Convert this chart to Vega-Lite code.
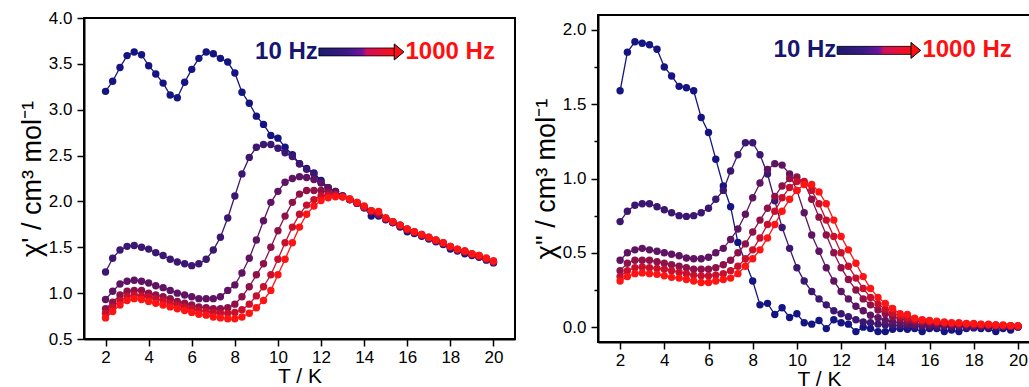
{
  "$schema": "https://vega.github.io/schema/vega-lite/v6.json",
  "background": "white",
  "padding": {"left": 17, "top": 8, "right": 0, "bottom": 0},
  "config": {
    "font": "Liberation Sans",
    "view": {"stroke": "black", "strokeWidth": 2},
    "axis": {
      "domainColor": "black", "domainWidth": 2, "tickColor": "black", "tickWidth": 1.5,
      "labelColor": "black", "titleColor": "black", "grid": false,
      "labelFont": "Liberation Sans", "titleFont": "Liberation Sans",
      "labelFontSize": 17, "titleFontWeight": "normal", "labelFlush": false, "labelOverlap": false
    }
  },
  "datasets": {
    "left": [
      {"T":2,"a":3.20,"b":1.23,"c":0.93,"d":0.83,"e":0.78,"f":0.73},
      {"T":2.33,"a":3.31,"b":1.38,"c":1.02,"d":0.90,"e":0.85,"f":0.80},
      {"T":2.67,"a":3.46,"b":1.47,"c":1.10,"d":0.98,"e":0.92,"f":0.87},
      {"T":3,"a":3.59,"b":1.51,"c":1.13,"d":1.02,"e":0.96,"f":0.92},
      {"T":3.33,"a":3.63,"b":1.52,"c":1.14,"d":1.03,"e":0.98,"f":0.94},
      {"T":3.67,"a":3.60,"b":1.50,"c":1.13,"d":1.03,"e":0.97,"f":0.93},
      {"T":4,"a":3.48,"b":1.48,"c":1.11,"d":1.00,"e":0.96,"f":0.91},
      {"T":4.33,"a":3.39,"b":1.44,"c":1.08,"d":0.98,"e":0.94,"f":0.89},
      {"T":4.67,"a":3.29,"b":1.41,"c":1.06,"d":0.96,"e":0.92,"f":0.87},
      {"T":5,"a":3.16,"b":1.37,"c":1.03,"d":0.94,"e":0.89,"f":0.85},
      {"T":5.33,"a":3.13,"b":1.34,"c":1.00,"d":0.91,"e":0.87,"f":0.83},
      {"T":5.67,"a":3.30,"b":1.32,"c":0.98,"d":0.89,"e":0.85,"f":0.81},
      {"T":6,"a":3.44,"b":1.30,"c":0.96,"d":0.87,"e":0.83,"f":0.79},
      {"T":6.33,"a":3.56,"b":1.32,"c":0.94,"d":0.85,"e":0.81,"f":0.77},
      {"T":6.67,"a":3.63,"b":1.37,"c":0.94,"d":0.84,"e":0.80,"f":0.76},
      {"T":7,"a":3.61,"b":1.47,"c":0.94,"d":0.83,"e":0.79,"f":0.74},
      {"T":7.33,"a":3.56,"b":1.61,"c":0.96,"d":0.83,"e":0.78,"f":0.73},
      {"T":7.67,"a":3.52,"b":1.82,"c":1.03,"d":0.84,"e":0.78,"f":0.72},
      {"T":8,"a":3.40,"b":2.06,"c":1.09,"d":0.88,"e":0.79,"f":0.72},
      {"T":8.33,"a":3.19,"b":2.30,"c":1.22,"d":0.96,"e":0.82,"f":0.74},
      {"T":8.67,"a":3.07,"b":2.48,"c":1.38,"d":1.07,"e":0.88,"f":0.78},
      {"T":9,"a":2.93,"b":2.59,"c":1.58,"d":1.20,"e":0.97,"f":0.84},
      {"T":9.33,"a":2.84,"b":2.62,"c":1.79,"d":1.32,"e":1.07,"f":0.92},
      {"T":9.67,"a":2.72,"b":2.62,"c":1.99,"d":1.50,"e":1.20,"f":1.03},
      {"T":10,"a":2.69,"b":2.58,"c":2.11,"d":1.68,"e":1.37,"f":1.20},
      {"T":10.33,"a":2.59,"b":2.53,"c":2.21,"d":1.84,"e":1.55,"f":1.37},
      {"T":10.67,"a":2.51,"b":2.49,"c":2.25,"d":1.99,"e":1.72,"f":1.55},
      {"T":11,"a":2.41,"b":2.41,"c":2.27,"d":2.08,"e":1.86,"f":1.72},
      {"T":11.33,"a":2.36,"b":2.35,"c":2.26,"d":2.12,"e":1.96,"f":1.86},
      {"T":11.67,"a":2.31,"b":2.30,"c":2.24,"d":2.12,"e":2.02,"f":1.95},
      {"T":12,"a":2.23,"b":2.21,"c":2.20,"d":2.12,"e":2.06,"f":2.01},
      {"T":12.33,"a":2.15,"b":2.15,"c":2.15,"d":2.10,"e":2.07,"f":2.04},
      {"T":12.67,"a":2.11,"b":2.10,"c":2.11,"d":2.08,"e":2.07,"f":2.05},
      {"T":13,"a":2.06,"b":2.06,"c":2.06,"d":2.05,"e":2.05,"f":2.05},
      {"T":13.33,"a":2.02,"b":2.02,"c":2.02,"d":2.02,"e":2.02,"f":2.03},
      {"T":13.67,"a":1.98,"b":1.98,"c":1.98,"d":1.98,"e":1.99,"f":1.99},
      {"T":14,"a":1.93,"b":1.93,"c":1.94,"d":1.94,"e":1.94,"f":1.95},
      {"T":14.33,"a":1.84,"b":1.89,"c":1.89,"d":1.89,"e":1.90,"f":1.90},
      {"T":14.67,"a":1.84,"b":1.85,"c":1.86,"d":1.86,"e":1.88,"f":1.89},
      {"T":15,"a":1.80,"b":1.81,"c":1.81,"d":1.81,"e":1.82,"f":1.82},
      {"T":15.33,"a":1.77,"b":1.77,"c":1.77,"d":1.78,"e":1.78,"f":1.78},
      {"T":15.67,"a":1.72,"b":1.73,"c":1.73,"d":1.74,"e":1.74,"f":1.74},
      {"T":16,"a":1.67,"b":1.69,"c":1.69,"d":1.69,"e":1.70,"f":1.70},
      {"T":16.33,"a":1.65,"b":1.66,"c":1.66,"d":1.66,"e":1.67,"f":1.67},
      {"T":16.67,"a":1.62,"b":1.63,"c":1.63,"d":1.63,"e":1.64,"f":1.64},
      {"T":17,"a":1.59,"b":1.60,"c":1.60,"d":1.60,"e":1.61,"f":1.61},
      {"T":17.33,"a":1.56,"b":1.57,"c":1.57,"d":1.57,"e":1.58,"f":1.58},
      {"T":17.67,"a":1.53,"b":1.54,"c":1.54,"d":1.54,"e":1.55,"f":1.55},
      {"T":18,"a":1.48,"b":1.50,"c":1.50,"d":1.50,"e":1.51,"f":1.51},
      {"T":18.33,"a":1.46,"b":1.47,"c":1.47,"d":1.47,"e":1.48,"f":1.48},
      {"T":18.67,"a":1.43,"b":1.45,"c":1.45,"d":1.45,"e":1.46,"f":1.46},
      {"T":19,"a":1.41,"b":1.42,"c":1.42,"d":1.42,"e":1.43,"f":1.43},
      {"T":19.33,"a":1.39,"b":1.40,"c":1.40,"d":1.40,"e":1.41,"f":1.41},
      {"T":19.67,"a":1.36,"b":1.37,"c":1.37,"d":1.37,"e":1.38,"f":1.38},
      {"T":20,"a":1.33,"b":1.34,"c":1.34,"d":1.34,"e":1.35,"f":1.35}
    ],
    "right": [
      {"T":2,"a":1.59,"b":0.71,"c":0.45,"d":0.38,"e":0.34,"f":0.31},
      {"T":2.33,"a":1.85,"b":0.78,"c":0.50,"d":0.43,"e":0.38,"f":0.34},
      {"T":2.67,"a":1.92,"b":0.82,"c":0.52,"d":0.45,"e":0.40,"f":0.36},
      {"T":3,"a":1.91,"b":0.83,"c":0.53,"d":0.45,"e":0.405,"f":0.365},
      {"T":3.33,"a":1.90,"b":0.83,"c":0.52,"d":0.45,"e":0.40,"f":0.36},
      {"T":3.67,"a":1.87,"b":0.81,"c":0.51,"d":0.44,"e":0.395,"f":0.355},
      {"T":4,"a":1.75,"b":0.79,"c":0.50,"d":0.43,"e":0.39,"f":0.345},
      {"T":4.33,"a":1.69,"b":0.77,"c":0.49,"d":0.42,"e":0.38,"f":0.335},
      {"T":4.67,"a":1.62,"b":0.75,"c":0.48,"d":0.41,"e":0.37,"f":0.33},
      {"T":5,"a":1.61,"b":0.745,"c":0.465,"d":0.40,"e":0.36,"f":0.32},
      {"T":5.33,"a":1.59,"b":0.75,"c":0.46,"d":0.39,"e":0.35,"f":0.31},
      {"T":5.67,"a":1.41,"b":0.77,"c":0.46,"d":0.39,"e":0.345,"f":0.30},
      {"T":6,"a":1.31,"b":0.80,"c":0.47,"d":0.39,"e":0.345,"f":0.30},
      {"T":6.33,"a":1.13,"b":0.86,"c":0.50,"d":0.40,"e":0.35,"f":0.31},
      {"T":6.67,"a":0.95,"b":0.92,"c":0.53,"d":0.42,"e":0.36,"f":0.32},
      {"T":7,"a":0.81,"b":1.05,"c":0.59,"d":0.45,"e":0.38,"f":0.33},
      {"T":7.33,"a":0.57,"b":1.16,"c":0.66,"d":0.50,"e":0.41,"f":0.36},
      {"T":7.67,"a":null,"b":1.24,"c":0.76,"d":0.56,"e":0.46,"f":0.41},
      {"T":8,"a":0.31,"b":1.24,"c":0.87,"d":0.64,"e":0.52,"f":0.46},
      {"T":8.33,"a":0.15,"b":1.16,"c":0.97,"d":0.72,"e":0.60,"f":0.52},
      {"T":8.67,"a":0.16,"b":1.03,"c":1.06,"d":0.80,"e":0.69,"f":0.60},
      {"T":9,"a":0.085,"b":0.85,"c":1.10,"d":0.88,"e":0.78,"f":0.69},
      {"T":9.33,"a":0.13,"b":0.67,"c":1.09,"d":0.95,"e":0.87,"f":0.78},
      {"T":9.67,"a":0.065,"b":0.53,"c":1.03,"d":1.00,"e":0.94,"f":0.86},
      {"T":10,"a":0.09,"b":0.40,"c":0.92,"d":1.01,"e":0.98,"f":0.92},
      {"T":10.33,"a":0.03,"b":0.31,"c":0.77,"d":0.97,"e":0.98,"f":0.96},
      {"T":10.67,"a":0.02,"b":0.24,"c":0.62,"d":0.86,"e":0.92,"f":0.96},
      {"T":11,"a":0.045,"b":0.19,"c":0.51,"d":0.74,"e":0.83,"f":0.91},
      {"T":11.33,"a":-0.01,"b":0.15,"c":0.40,"d":0.62,"e":0.72,"f":0.83},
      {"T":11.67,"a":0.05,"b":0.11,"c":0.31,"d":0.50,"e":0.61,"f":0.72},
      {"T":12,"a":0.03,"b":0.09,"c":0.24,"d":0.40,"e":0.50,"f":0.61},
      {"T":12.33,"a":0.02,"b":0.07,"c":0.19,"d":0.32,"e":0.41,"f":0.52},
      {"T":12.67,"a":-0.03,"b":0.05,"c":0.14,"d":0.25,"e":0.33,"f":0.43},
      {"T":13,"a":0.0,"b":0.035,"c":0.11,"d":0.19,"e":0.26,"f":0.34},
      {"T":13.33,"a":-0.01,"b":0.03,"c":0.08,"d":0.15,"e":0.20,"f":0.26},
      {"T":13.67,"a":-0.03,"b":0.02,"c":0.063,"d":0.115,"e":0.155,"f":0.20},
      {"T":14,"a":-0.03,"b":0.015,"c":0.045,"d":0.09,"e":0.12,"f":0.16},
      {"T":14.33,"a":-0.015,"b":0.012,"c":0.036,"d":0.07,"e":0.095,"f":0.125},
      {"T":14.67,"a":-0.01,"b":0.01,"c":0.03,"d":0.055,"e":0.075,"f":0.09},
      {"T":15,"a":-0.015,"b":0.008,"c":0.025,"d":0.045,"e":0.06,"f":0.085},
      {"T":15.33,"a":-0.01,"b":0.006,"c":0.02,"d":0.04,"e":0.05,"f":0.06},
      {"T":15.67,"a":-0.03,"b":0.005,"c":0.018,"d":0.035,"e":0.045,"f":0.05},
      {"T":16,"a":-0.01,"b":0.005,"c":0.016,"d":0.03,"e":0.04,"f":0.045},
      {"T":16.33,"a":-0.01,"b":0.004,"c":0.014,"d":0.027,"e":0.035,"f":0.04},
      {"T":16.67,"a":-0.03,"b":0.004,"c":0.012,"d":0.024,"e":0.03,"f":0.035},
      {"T":17,"a":-0.02,"b":0.003,"c":0.011,"d":0.021,"e":0.027,"f":0.03},
      {"T":17.33,"a":-0.03,"b":0.003,"c":0.01,"d":0.019,"e":0.025,"f":0.03},
      {"T":17.67,"a":-0.01,"b":0.003,"c":0.009,"d":0.017,"e":0.022,"f":0.025},
      {"T":18,"a":-0.005,"b":0.002,"c":0.008,"d":0.015,"e":0.02,"f":0.025},
      {"T":18.33,"a":-0.01,"b":0.002,"c":0.007,"d":0.013,"e":0.018,"f":0.02},
      {"T":18.67,"a":-0.01,"b":0.002,"c":0.007,"d":0.012,"e":0.016,"f":0.02},
      {"T":19,"a":-0.03,"b":0.002,"c":0.006,"d":0.011,"e":0.014,"f":0.015},
      {"T":19.33,"a":-0.01,"b":0.002,"c":0.006,"d":0.01,"e":0.012,"f":0.015},
      {"T":19.67,"a":-0.02,"b":0.002,"c":0.005,"d":0.008,"e":0.01,"f":0.01},
      {"T":20,"a":0.0,"b":0.002,"c":0.005,"d":0.007,"e":0.008,"f":0.01}
    ]
  },
  "bounds": "flush",
  "center": true,
  "spacing": 83,
  "hconcat": [
    {
      "width": 431,
      "height": 321,
      "data": {"name": "left"},
      "transform": [
        {"fold": ["a", "b", "c", "d", "e", "f"], "as": ["key", "value"]},
        {"filter": "datum.value != null"}
      ],
      "layer": [
        {
          "mark": {"type": "line", "strokeWidth": 1.3},
          "encoding": {
            "x": {"field": "T", "type": "quantitative",
              "scale": {"domain": [1, 21], "nice": false, "zero": false},
              "axis": {"orient": "bottom", "values": [2,3,4,5,6,7,8,9,10,11,12,13,14,15,16,17,18,19,20],
                "labelExpr": "datum.value % 2 == 0 ? datum.label : ''",
                "tickSize": {"condition": {"test": "datum.value % 2 == 0", "value": 7}, "value": 4},
                "labelPadding": 3, "title": "T / K", "titleFontSize": 21, "titlePadding": 0}},
            "y": {"field": "value", "type": "quantitative",
              "scale": {"domain": [0.5, 4.0], "nice": false, "zero": false},
              "axis": {"orient": "left", "values": [0.5,0.75,1,1.25,1.5,1.75,2,2.25,2.5,2.75,3,3.25,3.5,3.75,4],
                "labelExpr": "abs(datum.value*2 - round(datum.value*2)) < 0.01 ? format(datum.value, '.1f') : ''",
                "tickSize": {"condition": {"test": "abs(datum.value*2 - round(datum.value*2)) < 0.01", "value": 7}, "value": 4},
                "labelPadding": 5, "title": "χ' / cm³ mol⁻¹", "titleFontSize": 27, "titlePadding": 2}},
            "color": {"field": "key", "type": "nominal",
              "scale": {"domain": ["a","b","c","d","e","f"], "range": ["#141482","#3c1772","#5e1462","#8e1148","#c8102e","#ff1414"]},
              "legend": null}
          }
        },
        {
          "mark": {"type": "point", "filled": true, "size": 55, "opacity": 1},
          "encoding": {
            "x": {"field": "T", "type": "quantitative"},
            "y": {"field": "value", "type": "quantitative"},
            "color": {"field": "key", "type": "nominal", "legend": null},
            "order": {"field": "key", "type": "ordinal"}
          }
        },
        {
          "data": {"values": [{"label": "10 Hz"}]},
          "mark": {"type": "text", "fontSize": 24, "fontWeight": "bold", "align": "right", "baseline": "middle", "color": "#161670", "font": "Liberation Sans"},
          "encoding": {"x": {"datum": 11.85}, "y": {"datum": 3.63}, "text": {"field": "label"}}
        },
        {
          "data": {"values": [{"label": "1000 Hz"}]},
          "mark": {"type": "text", "fontSize": 24, "fontWeight": "bold", "align": "left", "baseline": "middle", "color": "#ff1010", "font": "Liberation Sans"},
          "encoding": {"x": {"datum": 15.92}, "y": {"datum": 3.63}, "text": {"field": "label"}}
        },
        {
          "data": {"values": [{"label": "arrow"}]},
          "mark": {"type": "rect", "stroke": "black", "strokeWidth": 0.8,
            "fill": {"gradient": "linear", "x1": 0, "y1": 0, "x2": 1, "y2": 0,
              "stops": [{"offset": 0, "color": "#1c1c6e"}, {"offset": 0.35, "color": "#3a1a86"}, {"offset": 0.55, "color": "#6a14a0"}, {"offset": 0.62, "color": "#d0105a"}, {"offset": 1, "color": "#ff1010"}]}},
          "encoding": {"x": {"datum": 11.9}, "x2": {"datum": 15.5}, "y": {"datum": 3.673}, "y2": {"datum": 3.587}}
        },
        {
          "data": {"values": [{"label": "head"}]},
          "mark": {"type": "point", "shape": "M-0.6,-1L0.6,0L-0.6,1Z", "size": 256, "filled": true, "fill": "#ff1010", "stroke": "black", "strokeWidth": 1, "opacity": 1},
          "encoding": {"x": {"datum": 15.62}, "y": {"datum": 3.63}}
        }
      ]
    },
    {
      "width": 442,
      "height": 327,
      "data": {"name": "right"},
      "transform": [
        {"fold": ["a", "b", "c", "d", "e", "f"], "as": ["key", "value"]},
        {"filter": "datum.value != null"}
      ],
      "layer": [
        {
          "mark": {"type": "line", "strokeWidth": 1.3},
          "encoding": {
            "x": {"field": "T", "type": "quantitative",
              "scale": {"domain": [1, 21], "nice": false, "zero": false},
              "axis": {"orient": "bottom", "values": [2,3,4,5,6,7,8,9,10,11,12,13,14,15,16,17,18,19,20],
                "labelExpr": "datum.value % 2 == 0 ? datum.label : ''",
                "tickSize": {"condition": {"test": "datum.value % 2 == 0", "value": 7}, "value": 4},
                "labelPadding": 3, "title": "T / K", "titleFontSize": 21, "titlePadding": 0}},
            "y": {"field": "value", "type": "quantitative",
              "scale": {"domain": [-0.1, 2.1], "nice": false, "zero": false},
              "axis": {"orient": "left", "values": [0,0.25,0.5,0.75,1,1.25,1.5,1.75,2],
                "labelExpr": "abs(datum.value*2 - round(datum.value*2)) < 0.01 ? format(datum.value, '.1f') : ''",
                "tickSize": {"condition": {"test": "abs(datum.value*2 - round(datum.value*2)) < 0.01", "value": 7}, "value": 4},
                "labelPadding": 5, "title": "χ\" / cm³ mol⁻¹", "titleFontSize": 27, "titlePadding": 2}},
            "color": {"field": "key", "type": "nominal",
              "scale": {"domain": ["a","b","c","d","e","f"], "range": ["#141482","#3c1772","#5e1462","#8e1148","#c8102e","#ff1414"]},
              "legend": null}
          }
        },
        {
          "mark": {"type": "point", "filled": true, "size": 55, "opacity": 1},
          "encoding": {
            "x": {"field": "T", "type": "quantitative"},
            "y": {"field": "value", "type": "quantitative"},
            "color": {"field": "key", "type": "nominal", "legend": null},
            "order": {"field": "key", "type": "ordinal"}
          }
        },
        {
          "data": {"values": [{"label": "10 Hz"}]},
          "mark": {"type": "text", "fontSize": 24, "fontWeight": "bold", "align": "right", "baseline": "middle", "color": "#161670", "font": "Liberation Sans"},
          "encoding": {"x": {"datum": 11.78}, "y": {"datum": 1.862}, "text": {"field": "label"}}
        },
        {
          "data": {"values": [{"label": "1000 Hz"}]},
          "mark": {"type": "text", "fontSize": 24, "fontWeight": "bold", "align": "left", "baseline": "middle", "color": "#ff1010", "font": "Liberation Sans"},
          "encoding": {"x": {"datum": 15.68}, "y": {"datum": 1.862}, "text": {"field": "label"}}
        },
        {
          "data": {"values": [{"label": "arrow"}]},
          "mark": {"type": "rect", "stroke": "black", "strokeWidth": 0.8,
            "fill": {"gradient": "linear", "x1": 0, "y1": 0, "x2": 1, "y2": 0,
              "stops": [{"offset": 0, "color": "#1c1c6e"}, {"offset": 0.35, "color": "#3a1a86"}, {"offset": 0.55, "color": "#6a14a0"}, {"offset": 0.62, "color": "#d0105a"}, {"offset": 1, "color": "#ff1010"}]}},
          "encoding": {"x": {"datum": 11.82}, "x2": {"datum": 15.25}, "y": {"datum": 1.889}, "y2": {"datum": 1.835}}
        },
        {
          "data": {"values": [{"label": "head"}]},
          "mark": {"type": "point", "shape": "M-0.6,-1L0.6,0L-0.6,1Z", "size": 256, "filled": true, "fill": "#ff1010", "stroke": "black", "strokeWidth": 1, "opacity": 1},
          "encoding": {"x": {"datum": 15.38}, "y": {"datum": 1.862}}
        }
      ]
    }
  ]
}
